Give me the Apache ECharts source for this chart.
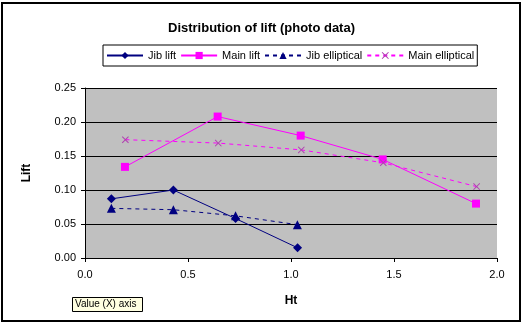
<!DOCTYPE html>
<html><head><meta charset="utf-8">
<script src="https://cdn.jsdelivr.net/npm/echarts@6/dist/echarts.min.js"></script>
<style>html,body{margin:0;padding:0;background:#fff}#c{width:523px;height:324px}</style>
</head><body><div id="c"></div>
<script>
const jibLiftX = [0.128, 0.429, 0.731, 1.032];
const jibLiftY = [0.087, 0.100, 0.058, 0.015];
const mainLiftX = [0.194, 0.644, 1.047, 1.445, 1.898];
const mainLiftY = [0.134, 0.208, 0.180, 0.145, 0.080];
const jibEllX = [0.128, 0.429, 0.731, 1.031];
const jibEllY = [0.073, 0.071, 0.062, 0.049];
const mainEllX = [0.196, 0.647, 1.050, 1.448, 1.901];
const mainEllY = [0.174, 0.169, 0.159, 0.140, 0.105];
const seriesNames = ['Jib lift', 'Main lift', 'Jib elliptical', 'Main elliptical'];

function pairs(xs, ys){ return xs.map((x,i)=>[x, ys[i]]); }
const xSym = 'path://M0,1L1,0L5,4L9,0L10,1L6,5L10,9L9,10L5,6L1,10L0,9L4,5Z';
const font = 'Liberation Sans, Arial, sans-serif';
const chart = echarts.init(document.getElementById('c'));
chart.setOption({
  backgroundColor: '#fff',
  animation: false,
  title: { text: 'Distribution of lift (photo data)', left: 'center', top: 17,
    textStyle: { fontFamily: font, fontSize: 13, fontWeight: 'bold', color: '#000' } },
  legend: {
    top: 45, left: 103,
    borderColor: '#000', borderWidth: 1, padding: [5, 3, 5, 3],
    itemWidth: 36, itemHeight: 9, itemGap: 4,
    textStyle: { fontFamily: font, fontSize: 11, color: '#000' },
    data: seriesNames
  },
  grid: { left: 85, right: 26, top: 88, bottom: 66, show: true, backgroundColor: '#c0c0c0', borderWidth: 0 },
  xAxis: {
    type: 'value', min: 0, max: 2, interval: 0.5,
    name: 'Ht', nameLocation: 'middle', nameGap: 37,
    nameTextStyle: { fontFamily: font, fontSize: 12, fontWeight: 'bold', color: '#000' },
    axisLine: { lineStyle: { color: '#000' } },
    axisTick: { show: true, length: 4, lineStyle: { color: '#000' } },
    axisLabel: { fontFamily: font, fontSize: 11, color: '#000', margin: 11, formatter: v => v.toFixed(1) },
    splitLine: { show: false }
  },
  yAxis: {
    type: 'value', min: 0, max: 0.25, interval: 0.05,
    name: 'Lift', nameLocation: 'middle', nameGap: 52, nameRotate: 90,
    nameTextStyle: { fontFamily: font, fontSize: 12, fontWeight: 'bold', color: '#000' },
    axisLine: { show: true, lineStyle: { color: '#000' } },
    axisTick: { show: true, length: 4, lineStyle: { color: '#000' } },
    axisLabel: { fontFamily: font, fontSize: 11, color: '#000', margin: 9, formatter: v => v.toFixed(2) },
    splitLine: { show: true, lineStyle: { color: '#000', width: 1 } }
  },
  series: [
    { name: seriesNames[0], type: 'line', data: pairs(jibLiftX, jibLiftY),
      symbol: 'diamond', symbolSize: 9, color: '#000080',
      lineStyle: { color: '#000080', width: 1 }, itemStyle: { color: '#000080' } },
    { name: seriesNames[1], type: 'line', data: pairs(mainLiftX, mainLiftY),
      symbol: 'rect', symbolSize: 8, color: '#ff00ff',
      lineStyle: { color: '#ff00ff', width: 1 }, itemStyle: { color: '#ff00ff' } },
    { name: seriesNames[2], type: 'line', data: pairs(jibEllX, jibEllY),
      symbol: 'triangle', symbolSize: 9, color: '#000080',
      lineStyle: { color: '#000080', width: 1, type: [4, 4] }, itemStyle: { color: '#000080' } },
    { name: seriesNames[3], type: 'line', data: pairs(mainEllX, mainEllY),
      symbol: xSym, symbolSize: 7, color: '#ff00ff',
      lineStyle: { color: '#ff00ff', width: 1, type: [4, 4] }, itemStyle: { color: '#b040b0' } }
  ],
  graphic: [
    { type: 'rect', shape: { x: 2, y: 3, width: 518, height: 318 }, silent: true,
      style: { fill: null, stroke: '#000', lineWidth: 2 }, z: 100 },
    { type: 'group', left: 72, top: 297, z: 100, children: [
      { type: 'rect', shape: { x: 0.5, y: 0.5, width: 70, height: 14 },
        style: { fill: '#ffffe1', stroke: '#000', lineWidth: 1 } },
      { type: 'text', x: 3, y: 2.5, style: { text: 'Value (X) axis', fill: '#000', font: '10px ' + font } }
    ] }
  ]
});
</script></body></html>
